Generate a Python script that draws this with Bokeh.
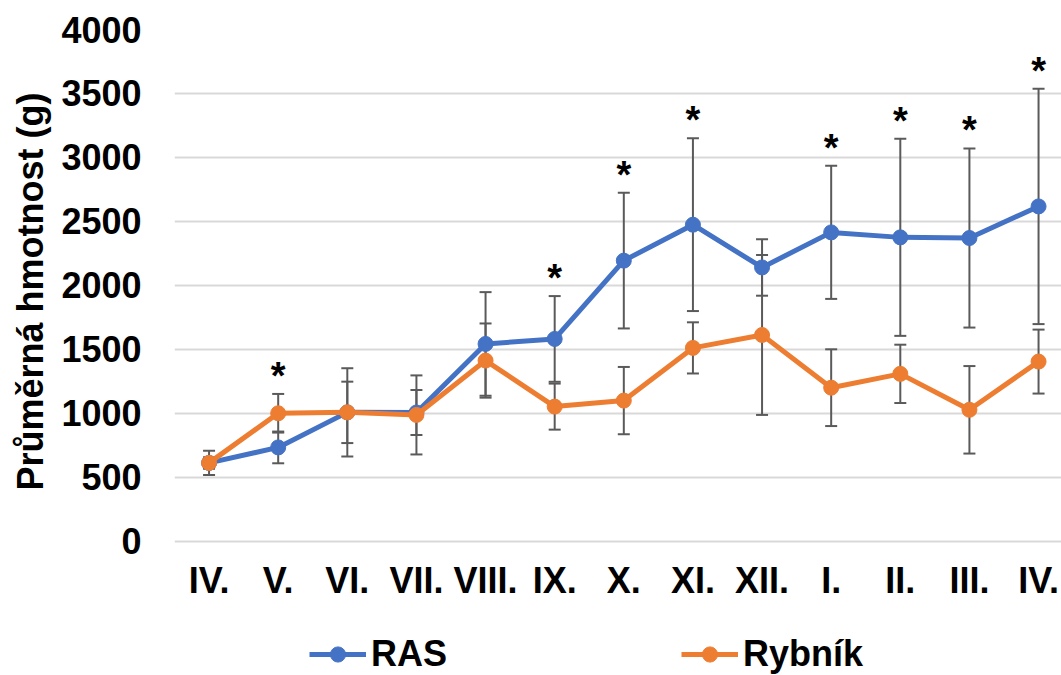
from bokeh.plotting import figure
from bokeh.models import Range1d, FixedTicker, Legend, LegendItem, ColumnDataSource, Title
from bokeh.embed import file_html
from bokeh.resources import INLINE
from bokeh.core.properties import value

# ---------------- data ----------------
months = ["IV.", "V.", "VI.", "VII.", "VIII.", "IX.", "X.", "XI.", "XII.", "I.", "II.", "III.", "IV."]
ras_mean = [612, 733, 1007, 1006, 1542, 1581, 2193, 2474, 2140, 2414, 2375, 2370, 2617]
ras_err = [95, 124, 345, 176, 405, 335, 530, 675, 221, 520, 770, 700, 920]
ryb_mean = [612, 1000, 1007, 987, 1412, 1052, 1099, 1511, 1612, 1200, 1308, 1027, 1404]
ryb_err = [45, 151, 240, 309, 290, 180, 263, 200, 625, 300, 228, 342, 250]
significant = [False, True, False, False, False, True, True, True, False, True, True, True, True]
y_ticks = [0, 500, 1000, 1500, 2000, 2500, 3000, 3500, 4000]
series_names = ["RAS", "Rybník"]
y_title = "Průměrná hmotnost (g)"

BLUE = "#4472C4"
ORANGE = "#ED7D31"
ERR = "#5A5A5A"
FONT = "Liberation Sans"

idx = list(range(len(months)))

p = figure(width=1061, height=675, output_backend="svg", toolbar_location=None,
           x_range=Range1d(-0.5, 12.332), y_range=Range1d(-1050, 4000),
           min_border_left=173, min_border_right=0, min_border_top=29, min_border_bottom=0)
p.outline_line_color = None
p.background_fill_color = "white"
p.border_fill_color = "white"

# axes
p.xaxis.fixed_location = 0
p.xaxis.ticker = FixedTicker(ticks=idx)
p.xaxis.major_label_overrides = {i: m for i, m in enumerate(months)}
p.yaxis.ticker = FixedTicker(ticks=y_ticks)
for ax in (p.xaxis[0], p.yaxis[0]):
    ax.axis_line_color = None
    ax.major_tick_line_color = None
    ax.minor_tick_line_color = None
    ax.major_tick_out = 0
    ax.major_tick_in = 0
    ax.major_label_text_font = FONT
    ax.major_label_text_font_style = "bold"
    ax.major_label_text_font_size = "36px"
    ax.major_label_text_color = "black"
p.xaxis.major_label_standoff = 19
p.yaxis.major_label_standoff = 33

# y-axis title (as a side title so it can be centred on the 0-4000 span)
p.add_layout(Title(text=y_title, align="left", offset=185, standoff=15,
                   text_font=FONT, text_font_style="bold", text_font_size="36px",
                   text_color="black"), "left")

p.xgrid.visible = False
p.ygrid.grid_line_color = "#D9D9D9"
p.ygrid.grid_line_width = 2

# error bars
def add_err(mean, err):
    lo = [m - e for m, e in zip(mean, err)]
    hi = [m + e for m, e in zip(mean, err)]
    src = ColumnDataSource(dict(x=idx, lo=lo, hi=hi))
    p.segment(x0="x", y0="lo", x1="x", y1="hi", source=src, line_color=ERR, line_width=2)
    p.scatter(x="x", y="lo", source=src, marker="dash", size=12, line_color=ERR, line_width=2)
    p.scatter(x="x", y="hi", source=src, marker="dash", size=12, line_color=ERR, line_width=2)

add_err(ras_mean, ras_err)
add_err(ryb_mean, ryb_err)

# series
items = []
for name, mean, col in ((series_names[0], ras_mean, BLUE), (series_names[1], ryb_mean, ORANGE)):
    src = ColumnDataSource(dict(x=idx, y=mean))
    l = p.line(x="x", y="y", source=src, line_color=col, line_width=5)
    s = p.scatter(x="x", y="y", source=src, size=15, fill_color=col, line_color=col)
    items.append(LegendItem(label=name, renderers=[l, s]))

# significance stars
sx, sy = [], []
for i in idx:
    if significant[i]:
        sx.append(i)
        sy.append(max(ras_mean[i] + ras_err[i], ryb_mean[i] + ryb_err[i]))
star_src = ColumnDataSource(dict(x=sx, y=sy, t=["*"] * len(sx)))
p.text(x="x", y="y", text="t", source=star_src, text_font=value(FONT), text_font_style="bold",
       text_font_size="38px", text_align="center", text_baseline="alphabetic", y_offset=-18,
       text_color="black")

legend = Legend(items=items, orientation="horizontal", location=(135, 0),
                glyph_width=57, glyph_height=38, label_height=38, label_standoff=5,
                spacing=234, padding=0, margin=0,
                label_text_font=FONT, label_text_font_style="bold", label_text_font_size="36px",
                label_text_color="black", border_line_color=None, background_fill_alpha=0)
p.add_layout(legend, "center")

open("out.html", "w").write(file_html(p, INLINE))
